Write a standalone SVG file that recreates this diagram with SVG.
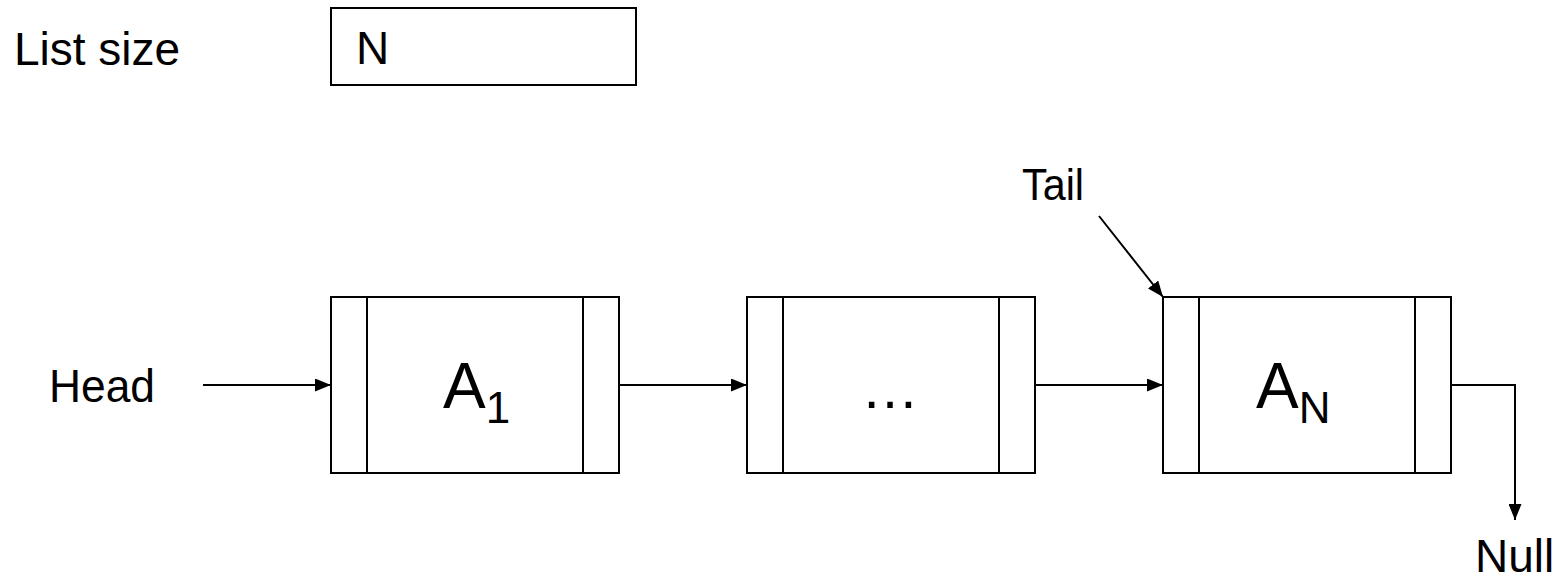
<svg xmlns="http://www.w3.org/2000/svg" width="1564" height="582" viewBox="0 0 1564 582">
  <style>
    .box { fill: #ffffff; stroke: #000000; stroke-width: 2; }
    .div { stroke: #000000; stroke-width: 2; }
    .lbl { font-family: "Liberation Sans", Arial, sans-serif; font-size: 46px; fill: #000000; }
    .big { font-family: "Liberation Sans", Arial, sans-serif; font-size: 64px; fill: #000000; }
    .sub { font-family: "Liberation Sans", Arial, sans-serif; font-size: 44px; fill: #000000; }
    .wire { fill: none; stroke: #000000; stroke-width: 2; }
  </style>
  <defs>
    <marker id="arrow" viewBox="0 0 16 13" refX="16" refY="6.5" markerWidth="16" markerHeight="13" markerUnits="userSpaceOnUse" orient="auto">
      <path d="M0,0 L16,6.5 L0,13 Z" fill="#000000"/>
    </marker>
  </defs>
  <rect width="1564" height="582" fill="#ffffff"/>

  <g id="list-size">
    <text class="lbl" x="14" y="65">List size</text>
    <rect class="box" x="331" y="8" width="305" height="77"/>
    <text class="lbl" x="356" y="64">N</text>
  </g>

  <g id="head-label">
    <text class="lbl" x="49" y="402" textLength="106" lengthAdjust="spacingAndGlyphs">Head</text>
  </g>

  <g id="tail-label">
    <text class="lbl" x="1022" y="200" textLength="62" lengthAdjust="spacingAndGlyphs" style="font-size:44px">Tail</text>
  </g>

  <g id="null-label">
    <text class="lbl" x="1475" y="572">Null</text>
  </g>

  <g id="node-a1">
    <rect class="box" x="331" y="297" width="288" height="176"/>
    <line class="div" x1="367" y1="297" x2="367" y2="473"/>
    <line class="div" x1="583" y1="297" x2="583" y2="473"/>
    <text class="big" x="443" y="408">A<tspan class="sub" dy="15">1</tspan></text>
  </g>

  <g id="node-mid">
    <rect class="box" x="747" y="297" width="288" height="176"/>
    <line class="div" x1="783" y1="297" x2="783" y2="473"/>
    <line class="div" x1="999" y1="297" x2="999" y2="473"/>
    <text class="big" x="890" y="408" text-anchor="middle" style="font-size:58px">…</text>
  </g>

  <g id="node-an">
    <rect class="box" x="1163" y="297" width="288" height="176"/>
    <line class="div" x1="1199" y1="297" x2="1199" y2="473"/>
    <line class="div" x1="1415" y1="297" x2="1415" y2="473"/>
    <text class="big" x="1256" y="408">A<tspan class="sub" dy="15">N</tspan></text>
  </g>

  <g id="connectors">
    <line class="wire" x1="203" y1="385" x2="331" y2="385" marker-end="url(#arrow)"/>
    <line class="wire" x1="619" y1="385" x2="747" y2="385" marker-end="url(#arrow)"/>
    <line class="wire" x1="1035" y1="385" x2="1163" y2="385" marker-end="url(#arrow)"/>
    <line class="wire" x1="1099" y1="216" x2="1163" y2="297" marker-end="url(#arrow)"/>
    <polyline class="wire" points="1451,385 1515,385 1515,520" marker-end="url(#arrow)"/>
  </g>
</svg>
